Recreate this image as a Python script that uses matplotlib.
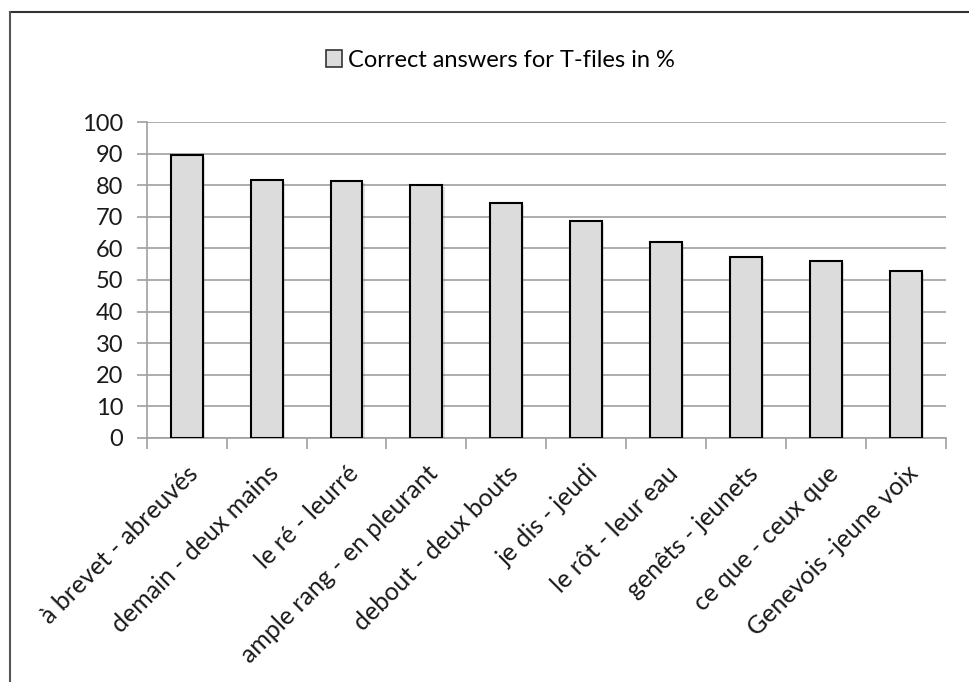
import matplotlib.pyplot as plt
import matplotlib.patheffects as pe
from matplotlib.lines import Line2D
from matplotlib.patches import Patch
import numpy as np

# word pairs and their scores
pairs = ["à brevet - abreuvés", "demain - deux mains", "le ré - leurré",
         "ample rang - en pleurant", "debout - deux bouts", "je dis - jeudi",
         "le rôt - leur eau", "genêts - jeunets", "ce que - ceux que",
         "Genevois -jeune voix"]
correct = [89.7, 81.6, 81.2, 80.0, 74.4, 68.7, 61.9, 57.4, 56.0, 52.7]
yticks = [0, 10, 20, 30, 40, 50, 60, 70, 80, 90, 100]

plt.rcParams['font.family'] = ['Lato', 'DejaVu Sans']

fig = plt.figure(figsize=(9.7, 6.82), dpi=100)
ax = fig.add_axes([0.1512, 0.3578, 0.8241, 0.4633])

x = np.arange(len(pairs))
bars = ax.bar(x, correct, width=0.4, color="#dcdcdc", edgecolor="black",
              linewidth=1.5, zorder=3)
for b in bars:
    b.set_path_effects([pe.SimplePatchShadow(offset=(1.5, -1.5), alpha=0.15),
                        pe.Normal()])

ax.set_ylim(0, 100)
ax.set_xlim(-0.5, len(pairs) - 0.5)
ax.set_yticks(yticks)
ax.yaxis.grid(True, color="#a0a0a0", linewidth=1.2, zorder=0)
ax.tick_params(axis="y", length=7, color="#a0a0a0", width=1.2,
               labelsize=17, pad=10, labelcolor="#1a1a1a")

# category labels on major ticks, tick marks between categories
ax.set_xticks(x)
ax.set_xticklabels(pairs, rotation=45, ha="right", rotation_mode="anchor",
                   fontsize=18, color="#1a1a1a")
ax.tick_params(axis="x", which="major", length=0, pad=17)
ax.set_xticks(np.arange(-0.5, len(pairs)), minor=True)
ax.tick_params(axis="x", which="minor", length=8, color="#a0a0a0", width=1.2)

for s in ["top", "right"]:
    ax.spines[s].set_visible(False)
for s in ["left", "bottom"]:
    ax.spines[s].set_color("#a0a0a0")
    ax.spines[s].set_linewidth(1.2)

leg = fig.legend(handles=[Patch(facecolor="#dcdcdc", edgecolor="#333333",
                                linewidth=1.2)],
                 labels=["Correct answers for T-files in %"],
                 loc="center", bbox_to_anchor=(0.516, 0.912), frameon=False,
                 fontsize=17, handlelength=0.7, handleheight=0.7,
                 handletextpad=0.25)

# frame lines along the top and left edge
fig.add_artist(Line2D([0.0103, 1.0], [0.9824, 0.9824], color="#333333",
                      linewidth=1.5, transform=fig.transFigure))
fig.add_artist(Line2D([0.0103, 0.0103], [0.0, 0.9824], color="#555555",
                      linewidth=1.5, transform=fig.transFigure))

fig.savefig("out.png", dpi=100)
